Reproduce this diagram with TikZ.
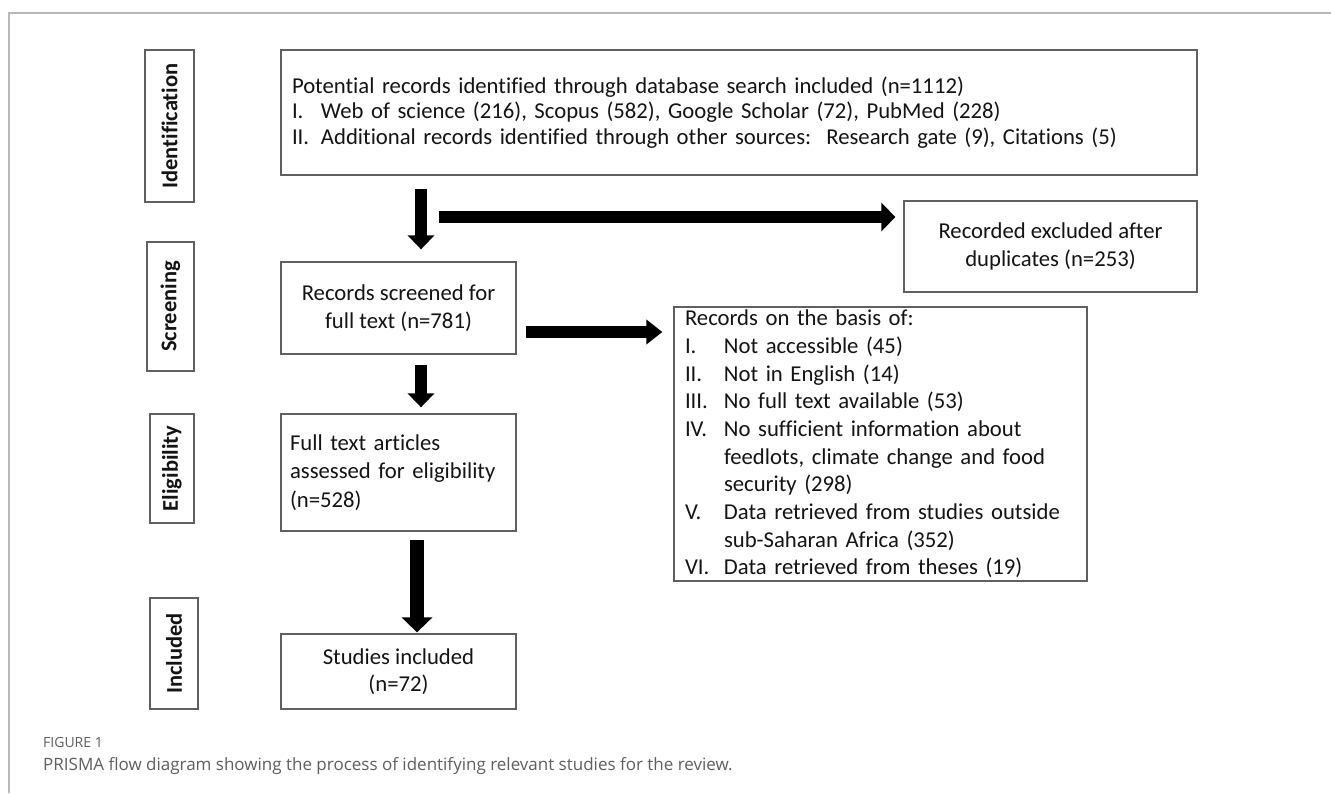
\documentclass[tikz,border=0pt]{standalone}
\usepackage{fontspec}
\setmainfont{Carlito}[Ligatures=NoCommon]
\newfontfamily\capfont{Open Sans}
\usetikzlibrary{arrows.meta}
\definecolor{boxcol}{RGB}{96,96,96}
\definecolor{framecol}{RGB}{185,185,185}
\definecolor{capgray}{RGB}{95,95,95}
\definecolor{txt}{RGB}{20,20,20}
\begin{document}
\begin{tikzpicture}[x=1pt,y=-1pt,
  box/.style={draw=boxcol, line width=1.3pt, inner sep=0pt, text=txt},
  lab/.style={draw=boxcol, line width=1.3pt, rotate=90, inner sep=0pt, text=txt,
    font=\bfseries\fontsize{22.5}{24}\selectfont},
  bigarrow/.style={line width=12pt, -{Triangle[length=14pt,width=26pt]}}
]
\useasboundingbox (0,0) rectangle (1331,793);
\fill[white] (0,0) rectangle (1331,793);
\draw[framecol, line width=1.5pt] (9,793) -- (9,13) -- (1331,13);

% phase labels
\node[lab, minimum width=152, minimum height=49] (lid) at (169.5,126) {Identification};
\node[lab, minimum width=129, minimum height=47] (lscr) at (170.5,306.5) {Screening};
\node[lab, minimum width=109, minimum height=44] (lel) at (172,468.5) {Eligibility};
\node[lab, minimum width=111, minimum height=48] (linc) at (174,653.5) {Included};

% boxes
\node[box, text width=894, inner xsep=11pt, minimum height=125, align=left,
  font=\fontsize{22.7}{25.5}\selectfont] (top) at (739,112.5)
  {Potential records identified through database search included (n=1112)\\
   \makebox[29pt][l]{I.}Web of science (216), Scopus (582), Google Scholar (72), PubMed (228)\\
   \makebox[29pt][l]{II.}Additional records identified through other sources:\ \ Research gate (9), Citations (5)};

\node[box, minimum width=293, minimum height=91, align=center,
  font=\fontsize{22.7}{28}\selectfont] (excl) at (1050.5,246.5)
  {Recorded excluded after\\duplicates (n=253)};

\node[box, minimum width=235, minimum height=92, align=center,
  font=\fontsize{22.7}{28}\selectfont] (scr) at (398.5,308)
  {Records screened for\\full text (n=781)};

\node[box, text width=217, inner xsep=9pt, minimum height=117, align=left,
  font=\fontsize{22.7}{28.5}\selectfont] (full) at (398.5,472.5)
  {Full text articles\\assessed for eligibility\\(n=528)};

\node[box, minimum width=235, minimum height=75, align=center,
  font=\fontsize{22.7}{27}\selectfont] (stud) at (398.5,671.5)
  {Studies included\\(n=72)};

\node[box, text width=391, inner xsep=11pt, minimum height=274, align=left,
  font=\fontsize{22.7}{27.7}\selectfont] (basis) at (880.5,444)
  {Records on the basis of:\\
   \makebox[39pt][l]{I.}Not accessible (45)\\
   \makebox[39pt][l]{II.}Not in English (14)\\
   \makebox[39pt][l]{III.}No full text available (53)\\
   \makebox[39pt][l]{IV.}No sufficient information about\\
   \hspace*{39pt}feedlots, climate change and food\\
   \hspace*{39pt}security (298)\\
   \makebox[39pt][l]{V.}Data retrieved from studies outside\\
   \hspace*{39pt}sub-Saharan Africa (352)\\
   \makebox[39pt][l]{VI.}Data retrieved from theses (19)};

% arrows
\coordinate (xa) at (421,0);
\coordinate (xb) at (417,0);
\coordinate (hy) at (439,217);
\coordinate (ry) at (0,332);
\draw[bigarrow, shorten <=13pt, shorten >=12pt] (top.south -| xa) -- (scr.north -| xa);
\draw[line width=12pt, -{Triangle[length=14pt,width=28pt]}, shorten >=8pt] (hy) -- (hy -| excl.west);
\draw[line width=12pt, -{Triangle[length=16pt,width=24pt]}, shorten <=9pt, shorten >=11pt] (scr.east |- ry) -- (basis.west |- ry);
\draw[bigarrow, shorten <=10pt, shorten >=6pt] (scr.south -| xa) -- (full.north -| xa);
\draw[line width=14pt, -{Triangle[length=15pt,width=30pt]}, shorten <=8pt, shorten >=1pt] (full.south -| xb) -- (stud.north -| xb);

% caption
\node[anchor=west, inner sep=0pt, text=capgray, font=\capfont\fontsize{14}{16}\selectfont] (fig) at (43,742) {FIGURE 1};
\node[anchor=west, inner sep=0pt, text=capgray, font=\capfont\fontsize{17}{20}\selectfont] (cap) at (43,766)
  {PRISMA flow diagram showing the process of identifying relevant studies for the review.};
\end{tikzpicture}
\end{document}
